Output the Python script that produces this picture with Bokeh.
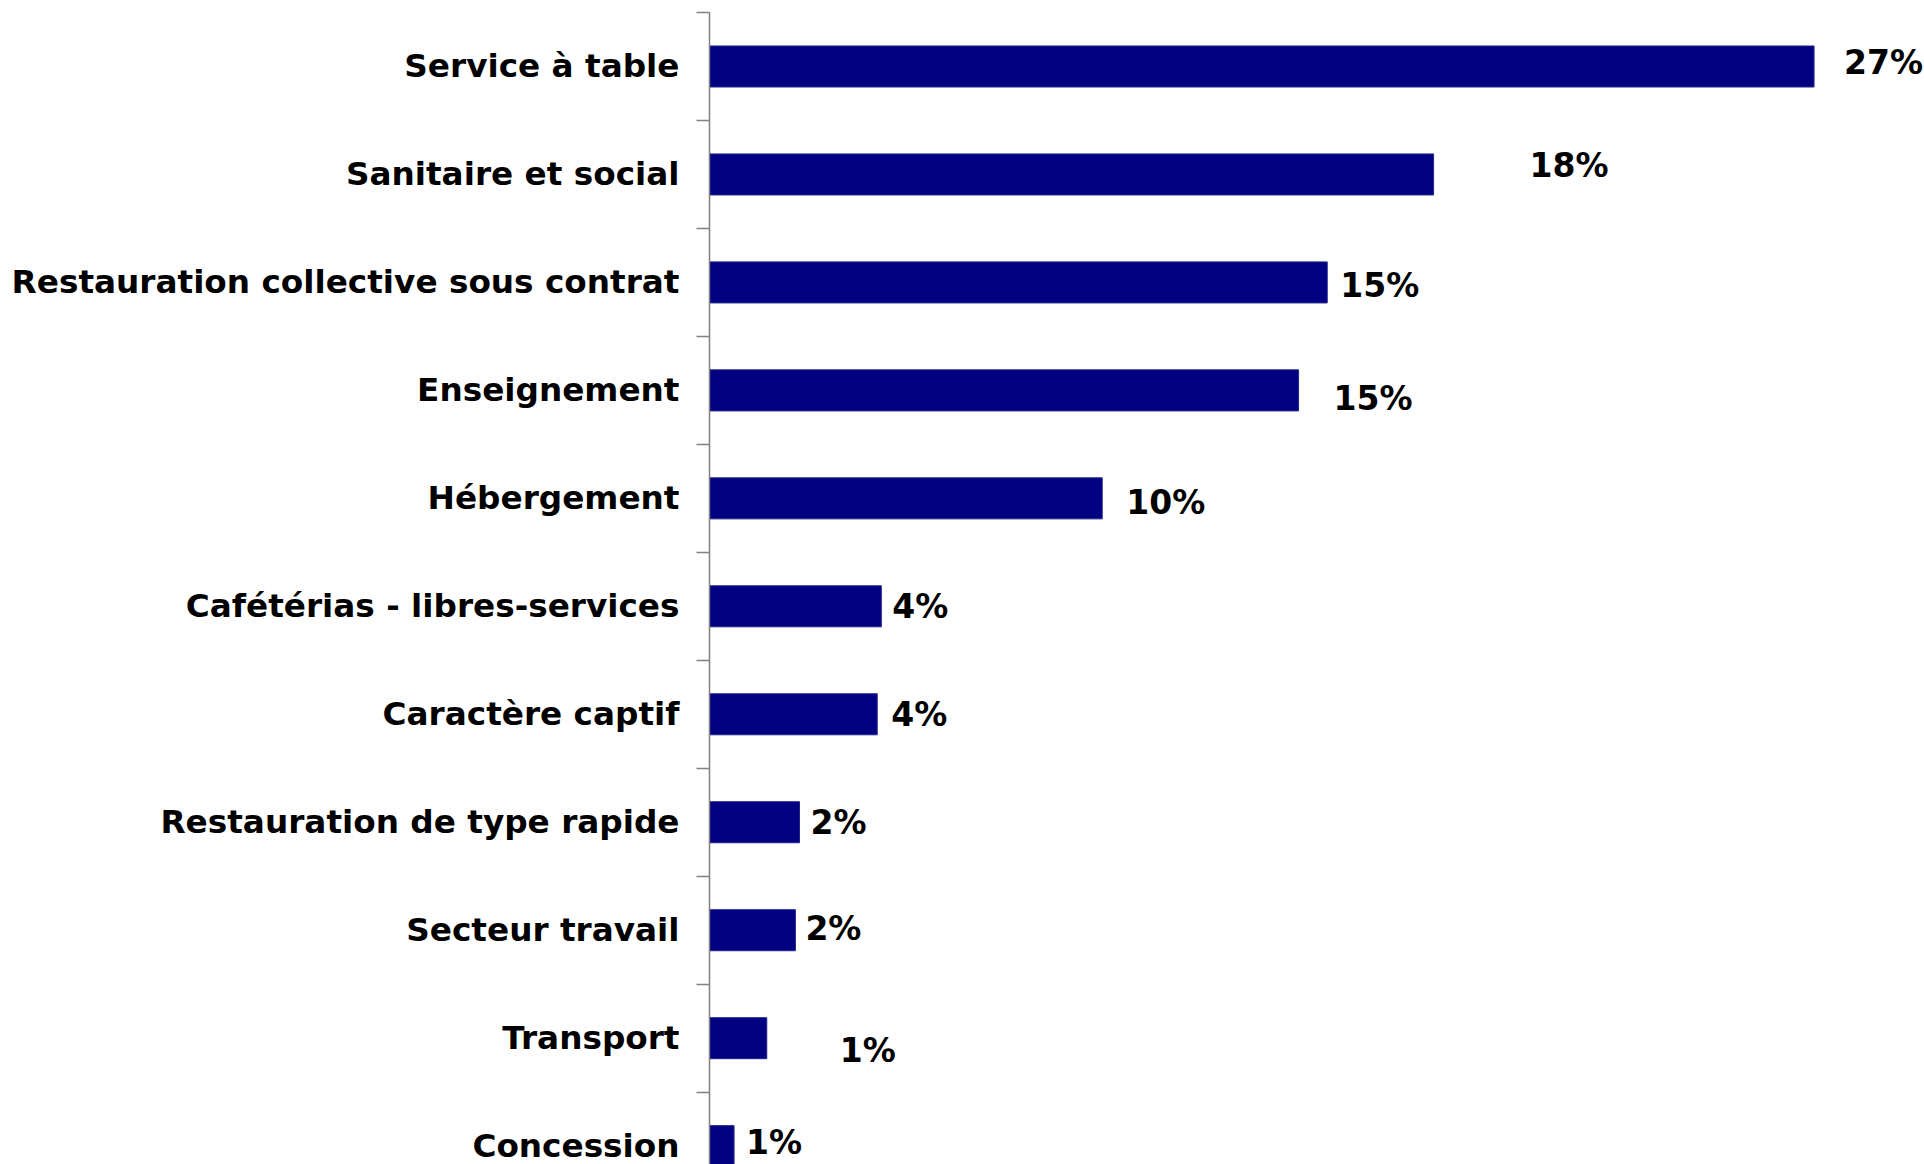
from bokeh.plotting import figure
from bokeh.models import ColumnDataSource, FixedTicker, Range1d
from bokeh.core.properties import value
from bokeh.embed import file_html
from bokeh.resources import INLINE

categories = [
    "Service à table",
    "Sanitaire et social",
    "Restauration collective sous contrat",
    "Enseignement",
    "Hébergement",
    "Cafétérias - libres-services",
    "Caractère captif",
    "Restauration de type rapide",
    "Secteur travail",
    "Transport",
    "Concession",
]
values = [27.0, 17.7, 15.1, 14.4, 9.6, 4.2, 4.1, 2.2, 2.1, 1.4, 0.6]
value_labels = ["27%", "18%", "15%", "15%", "10%", "4%", "4%", "2%", "2%", "1%", "1%"]

# label placement tweaks (screen pixels), as in the original manual label layout
label_dx = [30, 96, 13, 35, 24, 11, 14, 11, 10, 73, 12]
label_dy = [-4, -9, 3, 8, 4, 0, 0, 0, -2, 12, -4]

idx = list(range(len(categories)))
FONT = "DejaVu Sans"

src = ColumnDataSource(dict(
    y=idx, v=values, lab=value_labels, dx=label_dx, dy=label_dy,
))

p = figure(
    width=1924, height=1164,
    output_backend="svg", toolbar_location=None,
    x_range=Range1d(0, 29.7),
    y_range=Range1d(10.17, -0.5),
    min_border_left=709, min_border_right=0, min_border_top=12, min_border_bottom=0,
)
p.outline_line_color = None
p.xgrid.visible = False
p.ygrid.visible = False
p.xaxis.visible = False
p.background_fill_color = "white"
p.border_fill_color = "white"

p.hbar(y="y", right="v", left=0, height=0.38, source=src,
       fill_color="#000080", line_color="#22228f", line_width=1)

p.text(x="v", y="y", text="lab", source=src, x_offset="dx", y_offset="dy",
       text_font=value(FONT), text_font_style="bold", text_font_size="33px",
       text_color="black", text_align="left", text_baseline="middle")

ya = p.yaxis[0]
ya.ticker = FixedTicker(ticks=idx, minor_ticks=[i - 0.5 for i in range(len(categories) + 1)])
ya.major_label_overrides = {i: c for i, c in enumerate(categories)}
ya.major_tick_line_color = None
ya.major_tick_out = 0
ya.major_tick_in = 0
ya.minor_tick_out = 13
ya.minor_tick_in = 0
ya.minor_tick_line_color = "#808080"
ya.minor_tick_line_width = 1.5
ya.axis_line_color = "#808080"
ya.axis_line_width = 1.5
ya.major_label_standoff = 17
ya.major_label_text_font = FONT
ya.major_label_text_font_style = "bold"
ya.major_label_text_font_size = "32.7px"
ya.major_label_text_color = "black"

open("out.html", "w").write(file_html(p, INLINE))
